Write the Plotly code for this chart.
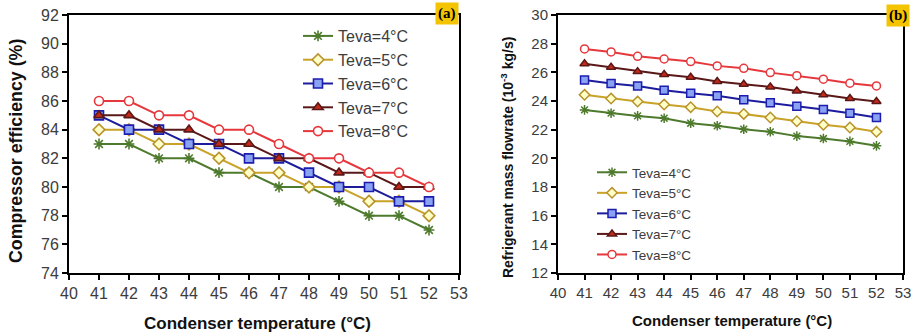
import plotly.graph_objects as go

# ---------------- data ----------------
cond_temp = [41, 42, 43, 44, 45, 46, 47, 48, 49, 50, 51, 52]
series_names = ["Teva=4°C", "Teva=5°C", "Teva=6°C", "Teva=7°C", "Teva=8°C"]

eff_4 = [83, 83, 82, 82, 81, 81, 80, 80, 79, 78, 78, 77]
eff_5 = [84, 84, 83, 83, 82, 81, 81, 80, 80, 79, 79, 78]
eff_6 = [85, 84, 84, 83, 83, 82, 82, 81, 80, 80, 79, 79]
eff_7 = [85, 85, 84, 84, 83, 83, 82, 82, 81, 81, 80, 80]
eff_8 = [86, 86, 85, 85, 84, 84, 83, 82, 82, 81, 81, 80]

flow_4 = [23.38, 23.15, 22.96, 22.80, 22.45, 22.27, 22.03, 21.85, 21.55, 21.38, 21.18, 20.87]
flow_5 = [24.43, 24.17, 23.96, 23.75, 23.57, 23.27, 23.10, 22.85, 22.59, 22.34, 22.15, 21.85]
flow_6 = [25.47, 25.22, 25.05, 24.75, 24.54, 24.36, 24.08, 23.87, 23.64, 23.40, 23.15, 22.85]
flow_7 = [26.60, 26.35, 26.05, 25.85, 25.66, 25.36, 25.17, 24.98, 24.70, 24.43, 24.18, 23.97]
flow_8 = [27.63, 27.42, 27.12, 26.93, 26.75, 26.45, 26.28, 25.98, 25.77, 25.52, 25.24, 25.05]

x_ticks = list(range(40, 54))
eff_ticks = list(range(74, 93, 2))
flow_ticks = list(range(12, 31, 2))

eff_series = [eff_4, eff_5, eff_6, eff_7, eff_8]
flow_series = [flow_4, flow_5, flow_6, flow_7, flow_8]

# ---------------- styles ----------------
styles = [
    dict(line="#4d7a2c", symbol="asterisk-open", fill="#4d7a2c", edge="#3d6a1e"),
    dict(line="#c9a228", symbol="diamond", fill="#ffffc8", edge="#b8922a"),
    dict(line="#1c1c9c", symbol="square", fill="#8aa2f2", edge="#1c1cb0"),
    dict(line="#5a1818", symbol="triangle-up", fill="#c42a18", edge="#5a1818"),
    dict(line="#e6373c", symbol="circle", fill="#ffffff", edge="#e6373c"),
]

W, H = 916, 335
def px_x(v):
    return v / W
def px_y(v):
    return 1 - v / H

fig = go.Figure()

for name, ys, st in zip(series_names, eff_series, styles):
    fig.add_trace(go.Scatter(
        x=cond_temp, y=ys, name=name, mode="lines+markers",
        xaxis="x", yaxis="y", legend="legend",
        line=dict(color=st["line"], width=2),
        marker=dict(symbol=st["symbol"], size=9, color=st["fill"],
                    line=dict(color=st["edge"], width=1.6)),
    ))

for name, ys, st in zip(series_names, flow_series, styles):
    fig.add_trace(go.Scatter(
        x=cond_temp, y=ys, name=name, mode="lines+markers",
        xaxis="x2", yaxis="y2", legend="legend2",
        line=dict(color=st["line"], width=2),
        marker=dict(symbol=st["symbol"], size=8, color=st["fill"],
                    line=dict(color=st["edge"], width=1.5)),
    ))

tick_col = "#3c3c3c"
common_axis = dict(showgrid=False, zeroline=False, showline=True, linecolor="black",
                   linewidth=2, mirror=True, ticks="outside", ticklen=5, tickwidth=2,
                   tickcolor="black", automargin=False)

fig.update_layout(
    width=W, height=H,
    autosize=False,
    margin=dict(l=0, r=0, t=0, b=0, pad=0, autoexpand=False),
    paper_bgcolor="white", plot_bgcolor="white",
    font=dict(family="Liberation Sans, Arial, sans-serif", color="black"),
    xaxis=dict(domain=[px_x(69), px_x(459)], range=[40, 53], tickvals=x_ticks,
               tickfont=dict(size=16, color=tick_col), anchor="y", **common_axis),
    yaxis=dict(domain=[px_y(273), px_y(15)], range=[74, 92], tickvals=eff_ticks,
               tickfont=dict(size=16, color=tick_col), anchor="x", **common_axis),
    xaxis2=dict(domain=[px_x(558), px_x(903)], range=[40, 53], tickvals=x_ticks,
                tickfont=dict(size=15, color=tick_col), anchor="y2", **common_axis),
    yaxis2=dict(domain=[px_y(273), px_y(15)], range=[12, 30], tickvals=flow_ticks,
                tickfont=dict(size=15, color=tick_col), anchor="x2", **common_axis),
    legend=dict(x=px_x(298), y=px_y(19), xanchor="left", yanchor="top",
                bgcolor="rgba(0,0,0,0)", font=dict(size=16, color=tick_col),
                tracegroupgap=0, itemwidth=30),
    legend2=dict(x=px_x(592), y=px_y(157), xanchor="left", yanchor="top",
                 bgcolor="rgba(0,0,0,0)", font=dict(size=13.5, color=tick_col),
                 tracegroupgap=0, itemwidth=30),
    showlegend=True,
)

annotations = [
    dict(text="<b>Condenser temperature (°C)</b>", x=px_x(257), y=px_y(323),
         font=dict(size=17, color="#111111")),
    dict(text="<b>Compressor efficiency (%)</b>", x=px_x(16), y=px_y(151),
         textangle=-90, font=dict(size=17.8, color="#111111")),
    dict(text="<b>Condenser temperature (°C)</b>", x=px_x(732), y=px_y(320),
         font=dict(size=15, color="#111111")),
    dict(text="<b>Refrigerant mass flowrate (10<sup>-3</sup> kg/s)</b>", x=px_x(507), y=px_y(158),
         textangle=-90, font=dict(size=14, color="#111111")),
    dict(text="<b>(a)</b>", x=px_x(446.5), y=px_y(14), bgcolor="#f5c400",
         font=dict(size=15, family="Liberation Serif, Times New Roman, serif", color="black"),
         borderpad=2),
    dict(text="<b>(b)</b>", x=px_x(898), y=px_y(15), bgcolor="#f5c400",
         font=dict(size=15, family="Liberation Serif, Times New Roman, serif", color="black"),
         borderpad=2),
]
for a in annotations:
    a.update(xref="paper", yref="paper", showarrow=False, xanchor="center", yanchor="middle")
    fig.add_annotation(**a)

fig.write_html("out.html", config={"displayModeBar": False},
               post_script="document.body.style.margin='0';document.body.style.overflow='hidden';")
